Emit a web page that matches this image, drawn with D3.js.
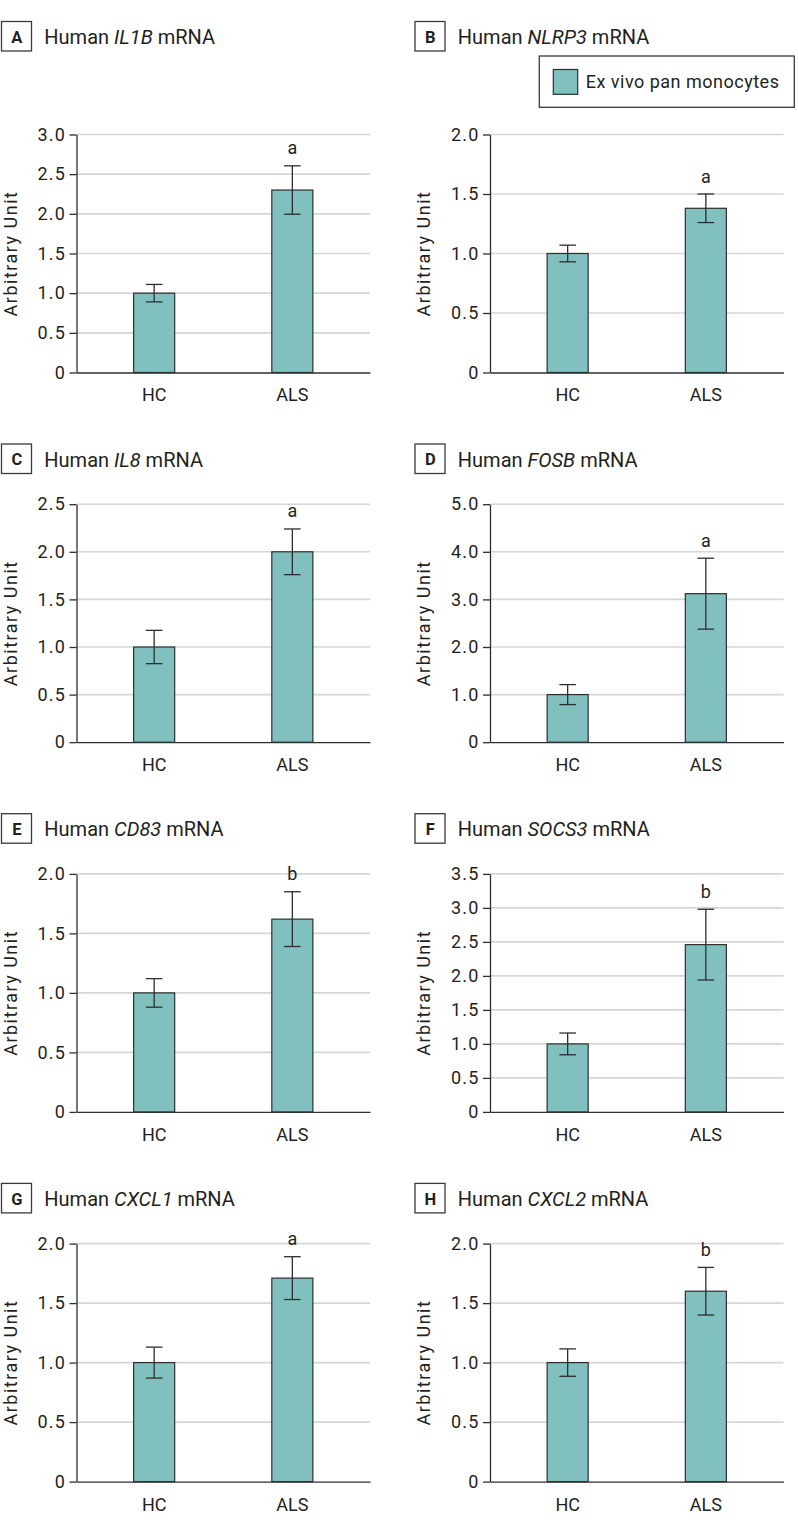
<!DOCTYPE html>
<html>
<head>
<meta charset="utf-8">
<script src="https://cdn.jsdelivr.net/npm/d3@7"></script>
<style>
  html, body { margin: 0; padding: 0; background: #fff; }
  svg { display: block; font-family: Roboto, "Noto Sans", sans-serif; }
</style>
</head>
<body>
<svg id="chart" width="798" height="1533"></svg>
<script>
// ---------------- data ----------------
const panelLetters = ["A", "B", "C", "D", "E", "F", "G", "H"];
const genes = ["IL1B", "NLRP3", "IL8", "FOSB", "CD83", "SOCS3", "CXCL1", "CXCL2"];
const categories = ["HC", "ALS"];
const yMaxValues = [3.0, 2.0, 2.5, 5.0, 2.0, 3.5, 2.0, 2.0];
const tickSteps = [0.5, 0.5, 0.5, 1.0, 0.5, 0.5, 0.5, 0.5];
const hcMeans = [1.0, 1.0, 1.0, 1.0, 1.0, 1.0, 1.0, 1.0];
const hcErrors = [0.11, 0.07, 0.175, 0.21, 0.12, 0.16, 0.13, 0.115];
const alsMeans = [2.3, 1.38, 2.0, 3.12, 1.62, 2.46, 1.71, 1.6];
const alsErrors = [0.305, 0.12, 0.24, 0.745, 0.23, 0.52, 0.18, 0.2];
const sigLabels = ["a", "a", "a", "a", "b", "b", "a", "b"];
const legendLabel = "Ex vivo pan monocytes";
const yAxisLabel = "Arbitrary Unit";

// ---------------- layout ----------------
const colX = [76.5, 490];
const plotW = 293.5;
const rowTop = [134.5, 504.2, 873.9, 1243.6];
const plotH = 238;
const barFill = "#80c1bf";
const darkStroke = "#2e2e2e";
const textColor = "#231f20";
const gridColor = "#d6d6d6";

const svg = d3.select("#chart");
const fmt = v => (v === 0 ? "0" : d3.format(".1f")(v));

panelLetters.forEach((letter, i) => {
  const col = i % 2, row = Math.floor(i / 2);
  const x0 = colX[col];
  const top = rowTop[row];
  const bottom = top + plotH;
  const g = svg.append("g");

  const y = d3.scaleLinear().domain([0, yMaxValues[i]]).range([bottom, top]);
  const x = d3.scaleBand().domain(categories).range([x0, x0 + plotW])
    .paddingInner(0.703).paddingOuter(0.4135);
  const ticks = d3.range(0, yMaxValues[i] + tickSteps[i] / 2, tickSteps[i]);

  // title box + title
  const boxTop = row === 0 ? top - 113.5 : top - 60.7;
  const boxLeft = x0 - 75.5;
  g.append("rect").attr("x", boxLeft + 0.5).attr("y", boxTop + 0.5)
    .attr("width", 30).attr("height", 29.5)
    .attr("fill", "none").attr("stroke", "#3a3a3a").attr("stroke-width", 1.3);
  g.append("text").attr("x", boxLeft + 15.8).attr("y", boxTop + 21.7)
    .attr("text-anchor", "middle").attr("font-weight", "bold").attr("font-size", 16.5)
    .attr("fill", textColor).text(letter);
  const title = g.append("text").attr("x", boxLeft + 43.3).attr("y", boxTop + 23.2)
    .attr("font-size", 20).attr("fill", textColor);
  title.append("tspan").text("Human ");
  title.append("tspan").attr("font-style", "italic").text(genes[i]);
  title.append("tspan").text(" mRNA");

  // gridlines
  g.append("g").selectAll("line").data(ticks.filter(t => t > 0)).join("line")
    .attr("x1", x0).attr("x2", x0 + plotW)
    .attr("y1", d => y(d)).attr("y2", d => y(d))
    .attr("stroke", gridColor).attr("stroke-width", 1.6);

  // y axis
  const ya = g.append("g").attr("transform", `translate(${x0},0)`)
    .call(d3.axisLeft(y).tickValues(ticks).tickFormat(fmt)
      .tickSize(7).tickSizeOuter(0).tickPadding(3.5));
  ya.select(".domain").attr("stroke", darkStroke).attr("stroke-width", 1.3);
  ya.selectAll(".tick line").attr("stroke", darkStroke).attr("stroke-width", 1.3);
  ya.selectAll(".tick text").attr("font-size", 18).attr("fill", textColor)
    .attr("font-family", "Roboto, sans-serif").attr("letter-spacing", 1.2);

  // x axis
  const xa = g.append("g").attr("transform", `translate(0,${bottom})`)
    .call(d3.axisBottom(x).tickSize(0).tickSizeOuter(0).tickPadding(16.2));
  xa.select(".domain").attr("stroke", darkStroke).attr("stroke-width", 1.3);
  xa.selectAll(".tick text").attr("font-size", 18).attr("fill", textColor)
    .attr("font-family", "Roboto, sans-serif");

  // y axis label
  g.append("text")
    .attr("transform", `translate(${x0 - 59.7},${(top + bottom) / 2}) rotate(-90)`)
    .attr("text-anchor", "middle").attr("font-size", 18).attr("letter-spacing", 1.5)
    .attr("fill", textColor).text(yAxisLabel);

  // bars
  const data = [
    { cat: categories[0], mean: hcMeans[i], err: hcErrors[i], sig: "" },
    { cat: categories[1], mean: alsMeans[i], err: alsErrors[i], sig: sigLabels[i] }
  ];
  g.append("g").selectAll("rect").data(data).join("rect")
    .attr("x", d => x(d.cat)).attr("width", x.bandwidth())
    .attr("y", d => y(d.mean)).attr("height", d => y(0) - y(d.mean))
    .attr("fill", barFill).attr("stroke", darkStroke).attr("stroke-width", 1.2);

  // error bars
  const eb = g.append("g").selectAll("g").data(data).join("g")
    .attr("stroke", darkStroke).attr("stroke-width", 1.3);
  const cx = d => x(d.cat) + x.bandwidth() / 2;
  eb.append("line").attr("x1", cx).attr("x2", cx)
    .attr("y1", d => y(d.mean - d.err)).attr("y2", d => y(d.mean + d.err));
  eb.append("line").attr("x1", d => cx(d) - 8.3).attr("x2", d => cx(d) + 8.3)
    .attr("y1", d => y(d.mean + d.err)).attr("y2", d => y(d.mean + d.err));
  eb.append("line").attr("x1", d => cx(d) - 8.3).attr("x2", d => cx(d) + 8.3)
    .attr("y1", d => y(d.mean - d.err)).attr("y2", d => y(d.mean - d.err));

  // significance letters
  g.append("g").selectAll("text").data(data.filter(d => d.sig)).join("text")
    .attr("x", cx).attr("y", d => y(d.mean + d.err) - 11.5)
    .attr("text-anchor", "middle").attr("font-size", 18).attr("fill", textColor)
    .text(d => d.sig);

  // legend (panel B only)
  if (i === 1) {
    const lg = g.append("g");
    lg.append("rect").attr("x", x0 + 49.3).attr("y", 56).attr("width", 255).attr("height", 51.3)
      .attr("fill", "#fff").attr("stroke", "#3a3a3a").attr("stroke-width", 1.3);
    lg.append("rect").attr("x", x0 + 63.3).attr("y", 69.5).attr("width", 24.4).attr("height", 24.8)
      .attr("fill", barFill).attr("stroke", darkStroke).attr("stroke-width", 1.2);
    lg.append("text").attr("x", x0 + 95.7).attr("y", 88.3).attr("font-size", 18)
      .attr("letter-spacing", 0.5).attr("fill", textColor).text(legendLabel);
  }
});
</script>
</body>
</html>
